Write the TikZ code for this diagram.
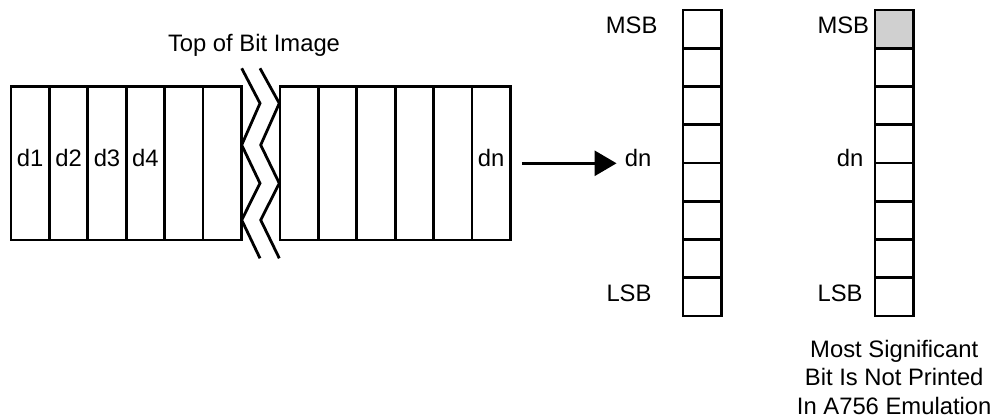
\documentclass[tikz,border=0pt]{standalone}
\usepackage{fontspec}
\setmainfont{Liberation Sans}
\usetikzlibrary{arrows.meta,positioning}
\definecolor{ink}{HTML}{000000}
\definecolor{msbgray}{HTML}{D0D0D0}
\tikzset{
  lbl/.style={inner sep=0pt,anchor=base,text=ink,
              font=\fontsize{23.8}{28.5}\selectfont},
  col/.style={draw=ink,line width=2.8pt,minimum width=38.4pt,
              minimum height=153.3pt,inner sep=0pt,text depth=10pt,
              text height=17pt,font=\fontsize{23.8}{28.5}\selectfont},
  bitcell/.style={draw=ink,line width=2.8pt,minimum width=38.6pt,
                  minimum height=38.25pt,inner sep=0pt},
  breakline/.style={draw=ink,line width=2.8pt},
  dataarr/.style={-{Triangle[length=22pt,width=25pt]},line width=2.8pt,
                  draw=ink}
}
\begin{document}
\begin{tikzpicture}[x=1pt,y=-1pt]
    \path[use as bounding box,fill=white] (0,0) rectangle (1004,419);

    % bit image, left part
    \foreach \i/\txt in {1/d1,2/d2,3/d3,4/d4,5/,6/}{
      \node[col] (l\i) at ({11+38.4*(\i-0.5)},163.3) {\txt};
    }
    % bit image, right part
    \foreach \i/\txt in {1/,2/,3/,4/,5/,6/dn}{
      \node[col] (r\i) at ({280+38.4*(\i-0.5)},163.3) {\txt};
    }
    \node[lbl] (top) at (254,51.7) {Top of Bit Image};

    % break marks
    \draw[breakline] (241.7,68.3) -- (260,103.3) -- (241.7,145)
      -- (260,183.3) -- (241.7,220) -- (260,258.3);
    \draw[breakline] (260,68.3) -- (279.3,103.3) -- (260.7,145)
      -- (279.3,183.3) -- (260.7,220) -- (279.3,258.3);

    % registers
    \foreach \k/\fc in {1/msbgray,2/white,3/white,4/white,
                        5/white,6/white,7/white,8/white}{
      \node[bitcell] (a\k) at (702.2,{10+38.25*(\k-0.5)}) {};
      \node[bitcell,fill=\fc] (b\k) at (894.2,{10+38.25*(\k-0.5)}) {};
    }

    \node[lbl] (msba) at (631.7,33.3) {MSB};
    \node[lbl] (dna)  at (638,166.7) {dn};
    \node[lbl] (lsba) at (629,301.7) {LSB};
    \node[lbl] (msbb) at (843.3,33.3) {MSB};
    \node[lbl] (dnb)  at (850,166.7) {dn};
    \node[lbl] (lsbb) at (840,301.7) {LSB};

    \draw[dataarr,shorten <=10pt,shorten >=8pt] (r6.east) -- (r6.east -| dna.west);

    \node[lbl,anchor=center,align=center] (note) at (894.2,377)
      {Most Significant\\Bit Is Not Printed\\In A756 Emulation};
\end{tikzpicture}
\end{document}
